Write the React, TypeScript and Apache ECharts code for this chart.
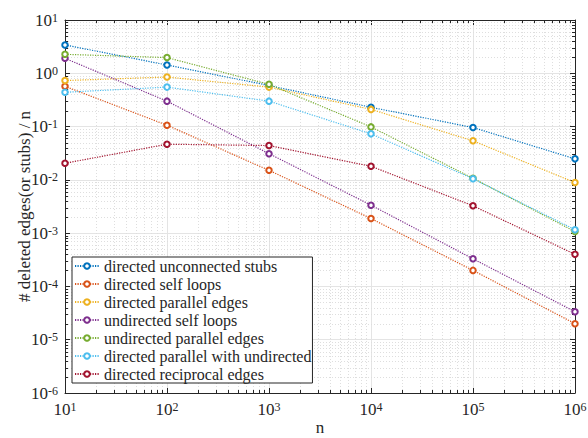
import React, { useEffect, useRef } from "react";
import * as echarts from "echarts";

const nValues = [10, 100, 1000, 10000, 100000, 1000000];
const seriesNames = [
  "directed unconnected stubs",
  "directed self loops",
  "directed parallel edges",
  "undirected self loops",
  "undirected parallel edges",
  "directed parallel with undirected",
  "directed reciprocal edges",
];
const unconnectedStubs = [3.4, 1.43, 0.59, 0.23, 0.096, 0.0248];
const directedSelfLoops = [0.57, 0.106, 0.0151, 0.00188, 0.0002, 0.00002];
const directedParallel = [0.73, 0.85, 0.55, 0.21, 0.054, 0.0089];
const undirectedSelfLoops = [1.91, 0.3, 0.031, 0.00335, 0.00033, 0.0000335];
const undirectedParallel = [2.27, 1.97, 0.62, 0.0986, 0.0107, 0.00107];
const parallelWithUndirected = [0.44, 0.55, 0.3, 0.073, 0.0105, 0.00116];
const reciprocalEdges = [0.0205, 0.0467, 0.044, 0.018, 0.00326, 0.0004];
const seriesColors = ["#0072BD", "#D95319", "#EDB120", "#7E2F8E", "#77AC30", "#4DBEEE", "#A2142F"];

const xDecades = [1, 2, 3, 4, 5, 6];
const yDecades = [-6, -5, -4, -3, -2, -1, 0, 1];
const minorMultipliers = [2, 3, 4, 5, 6, 7, 8, 9];

const FONT = "Liberation Serif, Times New Roman, serif";
const AXIS_COLOR = "#262626";

function minorValues(decades: number[]) {
  const out: number[] = [];
  for (let i = 0; i < decades.length - 1; i++) {
    for (const m of minorMultipliers) out.push(m * Math.pow(10, decades[i]));
  }
  return out;
}

const powLabel = (v: number) => {
  const e = Math.round(Math.log10(v));
  return `{b|10}{e|${e}}`;
};

const richStyle = {
  b: { fontSize: 17, fontFamily: FONT, color: AXIS_COLOR, lineHeight: 17, verticalAlign: "bottom", padding: [4, 0, 0, 0] },
  e: { fontSize: 12, fontFamily: FONT, color: AXIS_COLOR, lineHeight: 12, verticalAlign: "top" },
};

export default function App() {
  const ref = useRef<HTMLDivElement>(null);
  useEffect(() => {
    if (!ref.current) return;
    const chart = echarts.init(ref.current, undefined, { renderer: "svg" });
    const allData = [
      unconnectedStubs,
      directedSelfLoops,
      directedParallel,
      undirectedSelfLoops,
      undirectedParallel,
      parallelWithUndirected,
      reciprocalEdges,
    ];
    const lineSeries = allData.map((vals, i) => ({
      name: seriesNames[i],
      type: "line",
      data: nValues.map((n, j) => [n, vals[j]]),
      symbol: "emptyCircle",
      symbolSize: 5.5,
      z: 3,
      lineStyle: { color: seriesColors[i], width: 1.2, type: [1.2, 1.3] },
      itemStyle: { color: seriesColors[i], borderWidth: 1.4 },
      emphasis: { disabled: true },
    }));

    const xMinor = minorValues(xDecades).map((v) => [v, 1]);
    const yMinor = minorValues(yDecades).map((v) => [10, v]);
    const minorGridStyle = { stroke: "#dedede", lineWidth: 1, lineDash: [1, 2] };

    const minorSeriesX = {
      type: "custom",
      silent: true,
      z: 1,
      data: xMinor,
      renderItem: (params: any, api: any) => {
        const cs = params.coordSys;
        const p = api.coord([api.value(0), api.value(1)]);
        const x = Math.round(p[0]) + 0.5;
        const top = cs.y;
        const bottom = cs.y + cs.height;
        return {
          type: "group",
          children: [
            { type: "line", shape: { x1: x, y1: top, x2: x, y2: bottom }, style: minorGridStyle },
            { type: "line", shape: { x1: x, y1: bottom, x2: x, y2: bottom - 3 }, style: { stroke: AXIS_COLOR, lineWidth: 1 } },
            { type: "line", shape: { x1: x, y1: top, x2: x, y2: top + 3 }, style: { stroke: AXIS_COLOR, lineWidth: 1 } },
          ],
        };
      },
    };
    const minorSeriesY = {
      type: "custom",
      silent: true,
      z: 1,
      data: yMinor,
      renderItem: (params: any, api: any) => {
        const cs = params.coordSys;
        const p = api.coord([api.value(0), api.value(1)]);
        const y = Math.round(p[1]) + 0.5;
        const left = cs.x;
        const right = cs.x + cs.width;
        return {
          type: "group",
          children: [
            { type: "line", shape: { x1: left, y1: y, x2: right, y2: y }, style: minorGridStyle },
            { type: "line", shape: { x1: left, y1: y, x2: left + 3, y2: y }, style: { stroke: AXIS_COLOR, lineWidth: 1 } },
            { type: "line", shape: { x1: right, y1: y, x2: right - 3, y2: y }, style: { stroke: AXIS_COLOR, lineWidth: 1 } },
          ],
        };
      },
    };

    const baseX = {
      type: "log",
      logBase: 10,
      min: Math.pow(10, xDecades[0]),
      max: Math.pow(10, xDecades[xDecades.length - 1]),
      splitNumber: 5,
      axisLine: { show: true, onZero: false, lineStyle: { color: AXIS_COLOR, width: 1 } },
      axisTick: { show: true, inside: true, length: 5, lineStyle: { color: AXIS_COLOR } },
    };
    const baseY = {
      type: "log",
      logBase: 10,
      min: Math.pow(10, yDecades[0]),
      max: Math.pow(10, yDecades[yDecades.length - 1]),
      splitNumber: 7,
      axisLine: { show: true, onZero: false, lineStyle: { color: AXIS_COLOR, width: 1 } },
      axisTick: { show: true, inside: true, length: 5, lineStyle: { color: AXIS_COLOR } },
    };

    chart.setOption({
      animation: false,
      backgroundColor: "#ffffff",
      textStyle: { fontFamily: FONT, color: AXIS_COLOR },
      grid: { left: 65, top: 20, width: 510, height: 373, containLabel: false, outerBoundsMode: "none" },
      legend: {
        data: seriesNames,
        orient: "vertical",
        left: 72,
        top: 257,
        itemWidth: 24,
        itemHeight: 7,
        itemGap: 0,
        padding: [0, 1, 0, 2],
        backgroundColor: "#ffffff",
        borderColor: AXIS_COLOR,
        borderWidth: 1,
        borderRadius: 0,
        selectedMode: false,
        textStyle: { fontFamily: FONT, fontSize: 16, color: AXIS_COLOR, lineHeight: 18 },
        z: 10,
      },
      xAxis: [
        {
          ...baseX,
          position: "bottom",
          name: "n",
          nameLocation: "middle",
          nameGap: 26,
          nameMoveOverlap: false,
          nameTextStyle: { fontFamily: FONT, fontSize: 17, color: AXIS_COLOR },
          axisLabel: { formatter: powLabel, rich: richStyle, margin: 8, fontFamily: FONT },
          splitLine: { show: true, lineStyle: { color: "#e4e4e4", width: 1 } },
        },
        {
          ...baseX,
          position: "top",
          axisLabel: { show: false },
          splitLine: { show: false },
        },
      ],
      yAxis: [
        {
          ...baseY,
          position: "left",
          name: "# deleted edges(or stubs) / n",
          nameLocation: "middle",
          nameGap: 32,
          nameMoveOverlap: false,
          nameTextStyle: { fontFamily: FONT, fontSize: 17, color: AXIS_COLOR },
          axisLabel: { formatter: powLabel, rich: richStyle, margin: 7, fontFamily: FONT },
          splitLine: { show: true, lineStyle: { color: "#e4e4e4", width: 1 } },
        },
        {
          ...baseY,
          position: "right",
          axisLabel: { show: false },
          splitLine: { show: false },
        },
      ],
      series: [minorSeriesX, minorSeriesY, ...lineSeries],
    });
    return () => chart.dispose();
  }, []);
  return <div ref={ref} style={{ position: "fixed", left: 0, top: 0, width: 588, height: 438 }} />;
}
